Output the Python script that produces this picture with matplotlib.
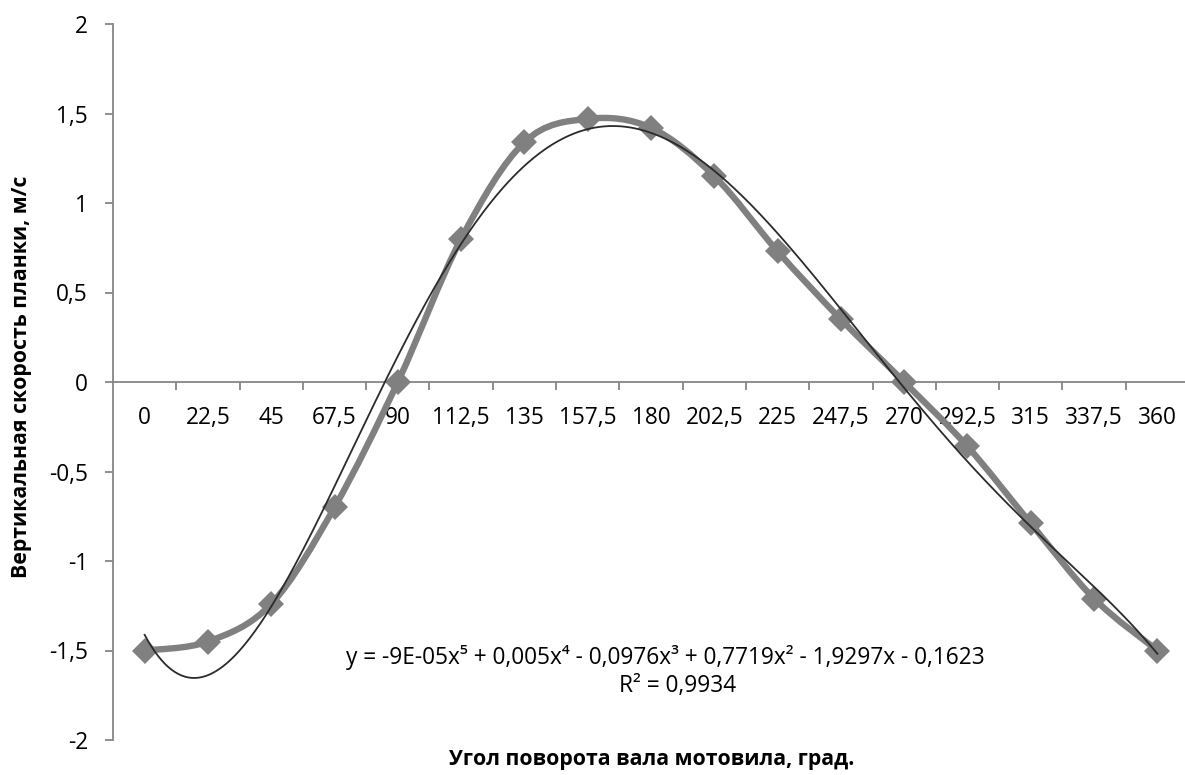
import numpy as np
import matplotlib
matplotlib.use("Agg")
import matplotlib.pyplot as plt
from matplotlib.path import Path
from matplotlib.patches import PathPatch

# ---- data ----
categories = ["0", "22,5", "45", "67,5", "90", "112,5", "135", "157,5", "180",
              "202,5", "225", "247,5", "270", "292,5", "315", "337,5", "360"]
velocity = [-1.50, -1.45, -1.24, -0.70, 0.00, 0.80, 1.34, 1.47, 1.42,
            1.15, 0.73, 0.35, 0.00, -0.36, -0.79, -1.21, -1.50]
y_ticks = [-2, -1.5, -1, -0.5, 0, 0.5, 1, 1.5, 2]
y_tick_labels = ["-2", "-1,5", "-1", "-0,5", "0", "0,5", "1", "1,5", "2"]
equation_text = "y = -9E-05x\u2075 + 0,005x\u2074 - 0,0976x\u00b3 + 0,7719x\u00b2 - 1,9297x - 0,1623"
r2_text = "R\u00b2 = 0,9934"
y_label = "Вертикальная скорость планки, м/с"
x_label = "Угол поворота вала мотовила, град."

plt.rcParams['font.family'] = ['Open Sans', 'DejaVu Sans']

W, H = 1185, 775
fig = plt.figure(figsize=(W / 100, H / 100), dpi=100)
left, right, top, bottom = 113, 1189, 24, 740
ax = fig.add_axes([left / W, 1 - bottom / H, (right - left) / W, (bottom - top) / H])

n = len(categories)
xi = np.arange(n)
yv = np.array(velocity)

axis_col = "#868686"
series_col = "#808080"

# smoothed line (Excel-like Bezier / Catmull-Rom)
pts = np.column_stack([xi, yv]).astype(float)
verts = [tuple(pts[0])]
codes = [Path.MOVETO]
for i in range(n - 1):
    p0 = pts[i - 1] if i > 0 else pts[i]
    p1 = pts[i]
    p2 = pts[i + 1]
    p3 = pts[i + 2] if i + 2 < n else pts[i + 1]
    c1 = p1 + (p2 - p0) / 6.0
    c2 = p2 - (p3 - p1) / 6.0
    verts += [tuple(c1), tuple(c2), tuple(p2)]
    codes += [Path.CURVE4] * 3
patch = PathPatch(Path(verts, codes), facecolor="none", edgecolor=series_col,
                  lw=4.6, capstyle="round", joinstyle="round", zorder=3)
ax.add_patch(patch)
ax.plot(xi, yv, linestyle="none", marker="D", markersize=13, color=series_col,
        markeredgewidth=0, zorder=4)

# polynomial trendline (order 5) on x = 1..n
xt = xi + 1
coef = np.polyfit(xt, yv, 5)
xs = np.linspace(1, n, 600)
ax.plot(xs - 1, np.polyval(coef, xs), color="#2b2b2b", lw=1.3, zorder=5)

ax.set_xlim(-0.5, n - 0.5)
ax.set_ylim(-2, 2)

for s in ["top", "right"]:
    ax.spines[s].set_visible(False)
ax.spines["bottom"].set_position(("data", 0))
for s in ["left", "bottom"]:
    ax.spines[s].set_color(axis_col)
    ax.spines[s].set_linewidth(1.3)

ax.set_yticks(y_ticks)
ax.set_yticklabels(y_tick_labels)
ax.tick_params(axis="y", direction="out", length=6, width=1.3, color=axis_col,
               pad=12, labelsize=16.3)

ax.set_xticks(np.arange(n) + 0.5)
ax.set_xticklabels([])
ax.tick_params(axis="x", which="major", direction="out", length=5.5, width=1.3,
               color=axis_col)
ax.set_xticks(xi, minor=True)
ax.set_xticklabels(categories, minor=True)
ax.tick_params(axis="x", which="minor", length=0, pad=17, labelsize=16.3)

fig.text(665 / W, 1 - 658 / H, equation_text, ha="center", va="center", fontsize=16.3)
fig.text(678 / W, 1 - 686 / H, r2_text, ha="center", va="center", fontsize=16.3)

fig.text(22 / W, 1 - 377 / H, y_label, rotation=90, ha="center", va="center",
         fontsize=15.3, fontweight="bold")
fig.text(652 / W, 1 - 759 / H, x_label, ha="center", va="center",
         fontsize=15.3, fontweight="bold")

fig.savefig("out.png", dpi=100)
